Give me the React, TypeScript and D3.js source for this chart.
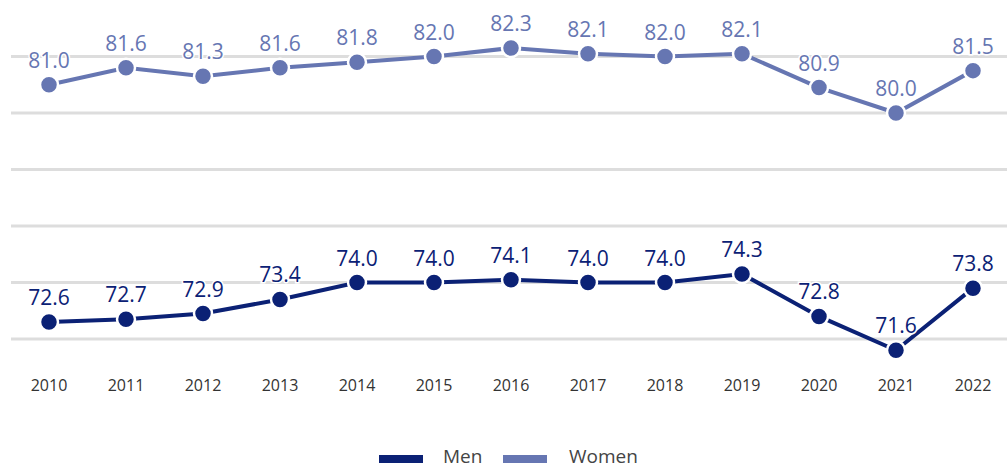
import React from "react";
import * as d3 from "d3";

const years = ["2010", "2011", "2012", "2013", "2014", "2015", "2016", "2017", "2018", "2019", "2020", "2021", "2022"];
const men = [72.6, 72.7, 72.9, 73.4, 74.0, 74.0, 74.1, 74.0, 74.0, 74.3, 72.8, 71.6, 73.8];
const women = [81.0, 81.6, 81.3, 81.6, 81.8, 82.0, 82.3, 82.1, 82.0, 82.1, 80.9, 80.0, 81.5];
const gridTicks = [72, 74, 76, 78, 80, 82];

const MEN_COLOR = "#0b2175";
const WOMEN_COLOR = "#6676b2";
const FONT = "'Open Sans', 'Noto Sans', sans-serif";

const width = 1007;
const height = 468;

const App = () => {
  const x = d3.scalePoint<string>().domain(years).range([49, 973]);
  const y = d3.scaleLinear().domain([72, 82]).range([339, 56.5]);

  const line = d3
    .line<number>()
    .x((_, i) => x(years[i]) as number)
    .y((d) => y(d));

  const series = [
    { name: "Men", values: men, color: MEN_COLOR },
    { name: "Women", values: women, color: WOMEN_COLOR },
  ];

  return (
    <div style={{ position: "fixed", left: 0, top: 0 }}>
      <svg width={width} height={height} style={{ display: "block", background: "#fff" }}>
        {/* grid */}
        {gridTicks.map((t) => (
          <line key={t} x1={11} x2={width} y1={y(t)} y2={y(t)} stroke="#dddddd" strokeWidth={3} />
        ))}

        {/* year labels */}
        {years.map((yr) => (
          <text
            key={yr}
            x={x(yr)}
            y={391}
            textAnchor="middle"
            fontFamily={FONT}
            fontSize={16}
            fill="#333"
          >
            {yr}
          </text>
        ))}

        {series.map((s) => (
          <g key={s.name}>
            <path d={line(s.values) || ""} fill="none" stroke={s.color} strokeWidth={4} />
            {s.values.map((v, i) => (
              <circle
                key={i}
                cx={x(years[i])}
                cy={y(v)}
                r={9}
                fill={s.color}
                stroke="#fff"
                strokeWidth={2.5}
              />
            ))}
            {s.values.map((v, i) => (
              <text
                key={"l" + i}
                x={x(years[i])}
                y={y(v) - 17}
                textAnchor="middle"
                fontFamily={FONT}
                fontSize={21}
                fill={s.color}
                stroke="#fff"
                strokeWidth={3}
                paintOrder="stroke"
              >
                {v.toFixed(1)}
              </text>
            ))}
          </g>
        ))}

        {/* legend */}
        <g>
          <rect x={379} y={455} width={44} height={8} fill={MEN_COLOR} />
          <text x={443} y={463} fontFamily={FONT} fontSize={19} fill="#444">
            Men
          </text>
          <rect x={503} y={455} width={44} height={8} fill={WOMEN_COLOR} />
          <text x={569} y={463} fontFamily={FONT} fontSize={19} fill="#444">
            Women
          </text>
        </g>
      </svg>
    </div>
  );
};

export default App;
